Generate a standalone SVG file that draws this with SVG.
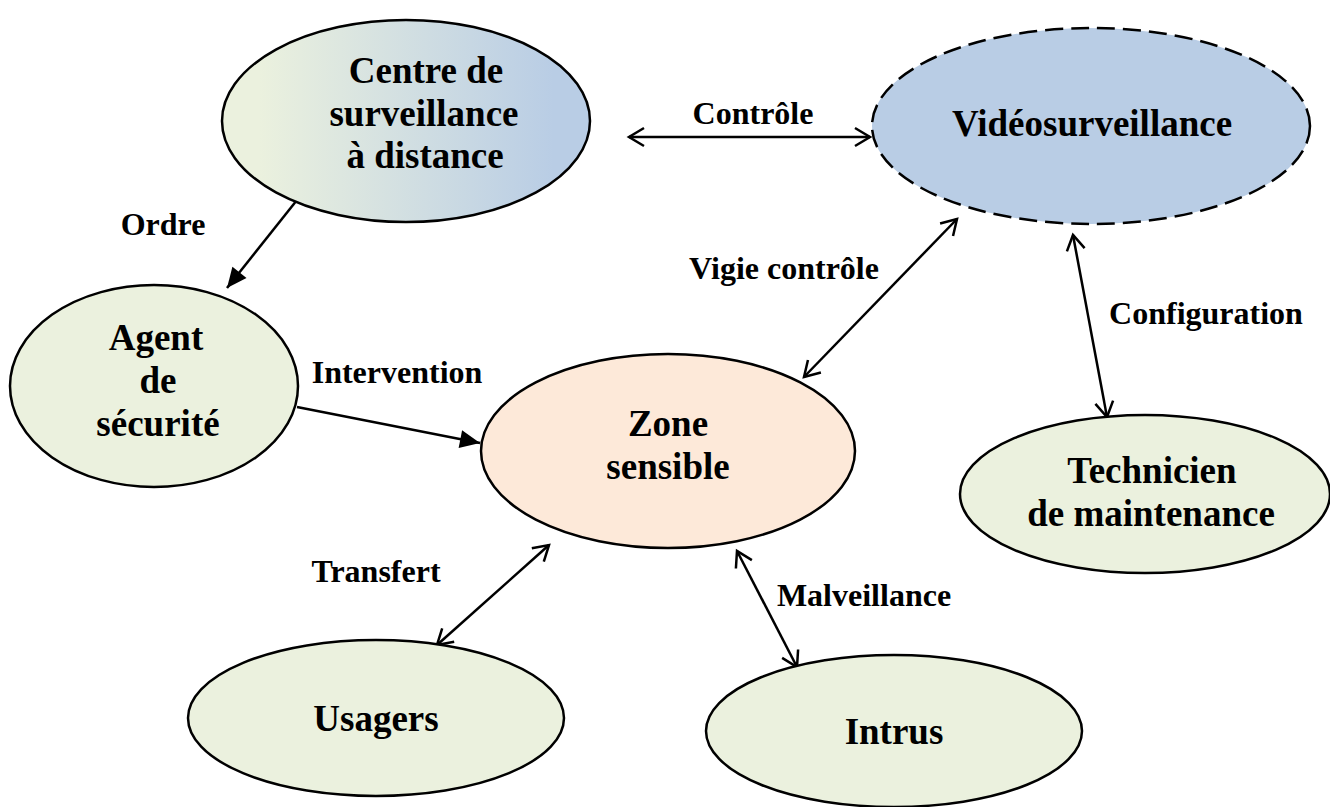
<svg xmlns="http://www.w3.org/2000/svg" width="1330" height="807" viewBox="0 0 1330 807">
<style>
.node{stroke:#000;stroke-width:2.5}
.green{fill:#ebf1de}
text{font-family:"Liberation Serif","Times New Roman","DejaVu Serif",serif;font-weight:bold;text-anchor:middle;fill:#000}
.nl{font-size:37px}
.el{font-size:32px}
.c{stroke:#000;stroke-width:2.5;fill:none}
</style>
<defs>
<linearGradient id="grad" x1="0" y1="0" x2="1" y2="0">
<stop offset="0.1" stop-color="#ebf1de"/>
<stop offset="0.9" stop-color="#b9cde5"/>
</linearGradient>
<marker id="open" markerUnits="userSpaceOnUse" markerWidth="30" markerHeight="30" viewBox="-20 -15 30 30" refX="0" refY="0" orient="auto-start-reverse" overflow="visible">
<path d="M-15,-9 L0,0 L-15,9" fill="none" stroke="#000" stroke-width="2.5"/>
</marker>
<marker id="filled" markerUnits="userSpaceOnUse" markerWidth="30" markerHeight="30" viewBox="-25 -15 30 30" refX="0" refY="0" orient="auto" overflow="visible">
<path d="M-20,-9 L0,0 L-20,9 z" fill="#000"/>
</marker>
</defs>
<rect width="1330" height="807" fill="#fff"/>
<g id="connectors">
<line class="c" x1="629" y1="137" x2="870" y2="137" marker-start="url(#open)" marker-end="url(#open)"/>
<line class="c" x1="297" y1="200" x2="227" y2="288" marker-end="url(#filled)"/>
<line class="c" x1="297" y1="407" x2="480" y2="443" marker-end="url(#filled)"/>
<line class="c" x1="957" y1="219" x2="804" y2="377" marker-start="url(#open)" marker-end="url(#open)"/>
<line class="c" x1="1073" y1="235" x2="1107" y2="417" marker-start="url(#open)" marker-end="url(#open)"/>
<line class="c" x1="549" y1="545" x2="437" y2="645" marker-start="url(#open)" marker-end="url(#open)"/>
<line class="c" x1="737" y1="551" x2="797" y2="667" marker-start="url(#open)" marker-end="url(#open)"/>
<text class="el" x="753" y="124" font-family="Liberation Serif">Contrôle</text>
<text class="el" x="163" y="235" font-family="Liberation Serif">Ordre</text>
<text class="el" x="784" y="279" font-family="Liberation Serif">Vigie contrôle</text>
<text class="el" x="1206" y="324" font-family="Liberation Serif">Configuration</text>
<text class="el" x="397" y="383" font-family="Liberation Serif">Intervention</text>
<text class="el" x="376" y="582" font-family="Liberation Serif">Transfert</text>
<text class="el" x="864" y="606" font-family="Liberation Serif">Malveillance</text>
</g>
<g id="centre">
<ellipse class="node" cx="406" cy="121" rx="184" ry="101" fill="url(#grad)"/>
<text class="nl" x="426" y="83" font-family="Liberation Serif">Centre de</text>
<text class="nl" x="424" y="126" font-family="Liberation Serif">surveillance</text>
<text class="nl" x="425" y="168" font-family="Liberation Serif">à distance</text>
</g>
<g id="videosurveillance">
<ellipse class="node" cx="1091" cy="126" rx="219" ry="98" fill="#b9cde5" stroke-dasharray="18 8"/>
<text class="nl" x="1092" y="136" font-family="Liberation Serif">Vidéosurveillance</text>
</g>
<g id="agent">
<ellipse class="node green" cx="154" cy="386" rx="144" ry="101"/>
<text class="nl" x="156" y="350" font-family="Liberation Serif">Agent</text>
<text class="nl" x="158" y="393" font-family="Liberation Serif">de</text>
<text class="nl" x="158" y="436" font-family="Liberation Serif">sécurité</text>
</g>
<g id="zone">
<ellipse class="node" cx="668" cy="451" rx="187" ry="97" fill="#fde9d9"/>
<text class="nl" x="668" y="436" font-family="Liberation Serif">Zone</text>
<text class="nl" x="668" y="479" font-family="Liberation Serif">sensible</text>
</g>
<g id="technicien">
<ellipse class="node green" cx="1145" cy="494" rx="185" ry="79"/>
<text class="nl" x="1152" y="483" font-family="Liberation Serif">Technicien</text>
<text class="nl" x="1151" y="526" font-family="Liberation Serif">de maintenance</text>
</g>
<g id="usagers">
<ellipse class="node green" cx="376" cy="718" rx="188" ry="78"/>
<text class="nl" x="376" y="731" font-family="Liberation Serif">Usagers</text>
</g>
<g id="intrus">
<ellipse class="node green" cx="894" cy="731" rx="188" ry="76"/>
<text class="nl" x="894" y="744" font-family="Liberation Serif">Intrus</text>
</g>
</svg>
